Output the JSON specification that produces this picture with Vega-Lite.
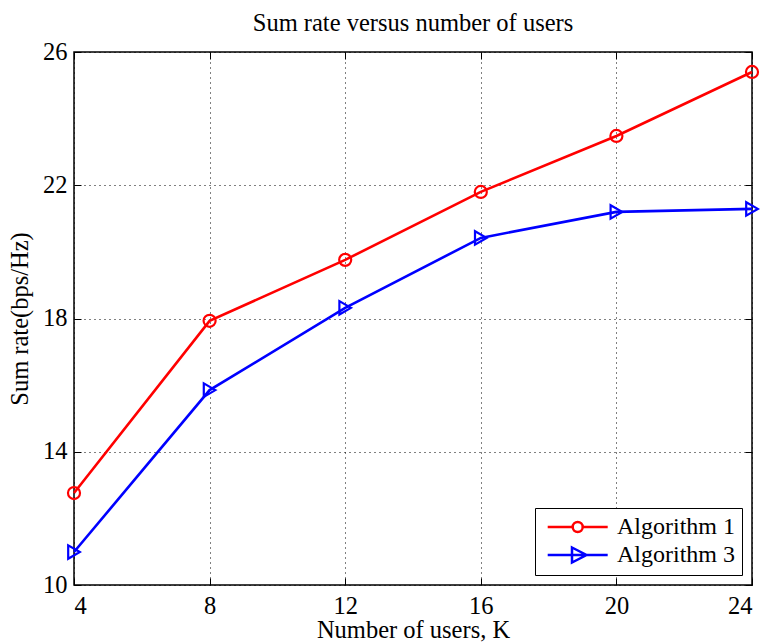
{
  "$schema": "https://vega.github.io/schema/vega-lite/v6.json",
  "width": 678,
  "height": 533,
  "autosize": {"type": "none"},
  "padding": {"left": 74, "top": 52, "right": 15, "bottom": 57},
  "background": "white",
  "title": {"text": "Sum rate versus number of users", "font": "Liberation Serif", "fontSize": 24.5, "fontWeight": "normal", "color": "black", "offset": 7, "dy": 4},
  "config": {
    "view": {"stroke": "black", "strokeWidth": 1.5},
    "axis": {
      "labelFont": "Liberation Serif", "labelFontSize": 24.5, "labelColor": "black",
      "titleFont": "Liberation Serif", "titleFontSize": 24.5, "titleFontWeight": "normal", "titleColor": "black",
      "domain": false, "ticks": true, "tickSize": -7, "tickColor": "black", "tickWidth": 1,
      "grid": true, "gridColor": "black", "gridDash": [1, 4], "gridOpacity": 1, "gridWidth": 1
    }
  },
  "resolve": {"axis": {"x": "independent", "y": "independent"}},
  "data": {
    "values": [
      {"K": 4, "rate": 12.76, "algorithm": "Algorithm 1"},
      {"K": 8, "rate": 17.93, "algorithm": "Algorithm 1"},
      {"K": 12, "rate": 19.76, "algorithm": "Algorithm 1"},
      {"K": 16, "rate": 21.8, "algorithm": "Algorithm 1"},
      {"K": 20, "rate": 23.48, "algorithm": "Algorithm 1"},
      {"K": 24, "rate": 25.4, "algorithm": "Algorithm 1"},
      {"K": 4, "rate": 10.99, "algorithm": "Algorithm 3"},
      {"K": 8, "rate": 15.85, "algorithm": "Algorithm 3"},
      {"K": 12, "rate": 18.32, "algorithm": "Algorithm 3"},
      {"K": 16, "rate": 20.42, "algorithm": "Algorithm 3"},
      {"K": 20, "rate": 21.2, "algorithm": "Algorithm 3"},
      {"K": 24, "rate": 21.29, "algorithm": "Algorithm 3"}
    ]
  },
  "layer": [
    {
      "mark": {"type": "line", "strokeWidth": 2.6},
      "encoding": {
        "x": {"field": "K", "type": "quantitative", "scale": {"domain": [4, 24], "nice": false, "zero": false},
          "axis": {"values": [4, 8, 12, 16, 20, 24], "title": "Number of users, K", "labelPadding": 16, "titlePadding": 1}},
        "y": {"field": "rate", "type": "quantitative", "scale": {"domain": [10, 26], "nice": false, "zero": false},
          "axis": {"values": [10, 14, 18, 22, 26], "title": "Sum rate(bps/Hz)", "labelPadding": 14, "titlePadding": 10}},
        "color": {"field": "algorithm", "type": "nominal",
          "scale": {"domain": ["Algorithm 1", "Algorithm 3"], "range": ["#ff0000", "#0000ff"]}}
      }
    },
    {
      "transform": [{"filter": "datum.algorithm === 'Algorithm 1'"}],
      "mark": {"type": "point", "shape": "circle", "filled": false, "strokeWidth": 2.2, "size": 145, "opacity": 1},
      "encoding": {
        "x": {"field": "K", "type": "quantitative",
          "axis": {"orient": "top", "values": [4, 8, 12, 16, 20, 24], "labels": false, "title": null, "grid": false}},
        "y": {"field": "rate", "type": "quantitative",
          "axis": {"orient": "right", "values": [10, 14, 18, 22, 26], "labels": false, "title": null, "grid": false}},
        "color": {"field": "algorithm", "type": "nominal"}
      }
    },
    {
      "transform": [{"filter": "datum.algorithm === 'Algorithm 3'"}],
      "mark": {"type": "point", "shape": "triangle-right", "filled": false, "strokeWidth": 2.2, "size": 180, "opacity": 1},
      "encoding": {
        "x": {"field": "K", "type": "quantitative", "axis": null},
        "y": {"field": "rate", "type": "quantitative", "axis": null},
        "color": {"field": "algorithm", "type": "nominal"}
      }
    },
    {
      "mark": {"type": "point", "filled": false, "strokeWidth": 2.5, "opacity": 0},
      "encoding": {
        "x": {"field": "K", "type": "quantitative", "axis": null},
        "y": {"field": "rate", "type": "quantitative", "axis": null},
        "color": {"field": "algorithm", "type": "nominal",
          "legend": {
            "title": null, "orient": "bottom-right", "offset": 10,
            "padding": 7, "strokeColor": "black", "fillColor": "white",
            "labelFont": "Liberation Serif", "labelFontSize": 24, "labelColor": "black", "labelOffset": 51,
            "rowPadding": 3, "symbolSize": 400, "symbolStrokeWidth": 2.5, "symbolOpacity": 1
          }
        },
        "shape": {"field": "algorithm", "type": "nominal",
          "scale": {"domain": ["Algorithm 1", "Algorithm 3"],
            "range": ["M-0.63,0L1.87,0M2.87,0L5.37,0M1.87,0A0.5,0.5 0 1,1 2.87,0A0.5,0.5 0 1,1 1.87,0", "M-0.63,0L5.37,0M1.8,-0.75L3.25,0L1.8,0.75Z"]},
          "legend": {
            "title": null, "orient": "bottom-right", "offset": 10,
            "padding": 7, "strokeColor": "black", "fillColor": "white",
            "labelFont": "Liberation Serif", "labelFontSize": 24, "labelColor": "black", "labelOffset": 51,
            "rowPadding": 3, "symbolSize": 400, "symbolStrokeWidth": 2.5, "symbolOpacity": 1
          }
        }
      }
    }
  ]
}
